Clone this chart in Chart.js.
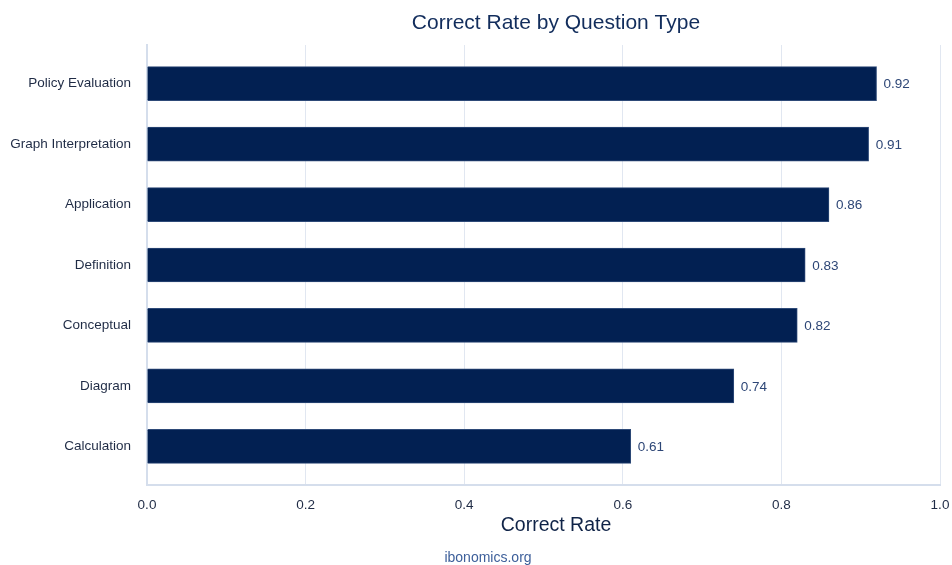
<!DOCTYPE html>
<html>
<head>
<meta charset="utf-8">
<title>Correct Rate by Question Type</title>
<script src="https://cdn.jsdelivr.net/npm/chart.js@4/dist/chart.umd.min.js"></script>
<style>
  html, body { margin: 0; padding: 0; background: #ffffff; }
  #wrap { position: relative; width: 952px; height: 565px; }
</style>
</head>
<body>
<div id="wrap"><canvas id="chart" width="952" height="565"></canvas></div>
<script>
// Question types, listed top to bottom
const categories = [
  'Policy Evaluation',
  'Graph Interpretation',
  'Application',
  'Definition',
  'Conceptual',
  'Diagram',
  'Calculation'
];
// Share of answers that were correct
const correctRates = [0.92, 0.91, 0.86, 0.83, 0.82, 0.74, 0.61];
// X axis tick values
const xTicks = [0.0, 0.2, 0.4, 0.6, 0.8, 1.0];

const FONT = '"Liberation Sans", Arial, sans-serif';
const NAVY = '#022052';
const GRID = '#e1e7f1';
const AXIS = '#d5deec';

// Bars placed on a numeric index axis so the rows keep some padding at both ends
const points = correctRates.map((v, i) => ({ x: v, y: i }));

// Title, axis title, footer and value labels
const textPlugin = {
  id: 'chartText',
  afterDatasetsDraw(chart) {
    const ctx = chart.ctx;
    const meta = chart.getDatasetMeta(0);
    ctx.save();
    ctx.font = '13.5px ' + FONT;
    ctx.fillStyle = '#2d4676';
    ctx.textAlign = 'left';
    ctx.textBaseline = 'middle';
    meta.data.forEach((bar, i) => {
      ctx.fillText(correctRates[i].toFixed(2), bar.x + 7, bar.y + 1);
    });
    ctx.restore();
  },
  afterDraw(chart) {
    const ctx = chart.ctx;
    const cx = 556;
    ctx.save();
    ctx.textAlign = 'center';
    ctx.textBaseline = 'middle';
    ctx.fillStyle = '#122d5c';
    ctx.font = '21px ' + FONT;
    ctx.fillText('Correct Rate by Question Type', cx, 23);
    ctx.fillStyle = '#0f2347';
    ctx.font = '19.5px ' + FONT;
    ctx.fillText('Correct Rate', cx, 526);
    ctx.fillStyle = '#3d5f9a';
    ctx.font = '14px ' + FONT;
    ctx.fillText('ibonomics.org', 488, 558);
    ctx.restore();
  }
};

new Chart(document.getElementById('chart'), {
  type: 'bar',
  data: {
    datasets: [{
      data: points,
      backgroundColor: NAVY,
      borderColor: '#2e4a78',
      borderWidth: 1,
      borderSkipped: 'start',
      barThickness: 34
    }]
  },
  options: {
    indexAxis: 'y',
    responsive: false,
    animation: false,
    layout: { padding: { top: 45, right: 12, bottom: 0, left: 0 } },
    plugins: {
      legend: { display: false },
      title: { display: false },
      tooltip: { enabled: false }
    },
    scales: {
      x: {
        type: 'linear',
        min: 0,
        max: 1,
        afterBuildTicks(scale) { scale.ticks = xTicks.map(v => ({ value: v })); },
        afterFit(scale) {
          scale.height = 80;
          scale.paddingLeft = 0;
          scale.paddingRight = 0;
        },
        grid: { color: GRID, lineWidth: 1, drawTicks: false },
        border: { display: true, color: AXIS, width: 2 },
        ticks: {
          padding: 12,
          color: '#1f2b45',
          font: { family: FONT, size: 13.5 },
          callback: v => Number(v).toFixed(1)
        }
      },
      y: {
        type: 'linear',
        reverse: true,
        offset: false,
        min: -0.64,
        max: categories.length - 1 + 0.64,
        afterBuildTicks(scale) { scale.ticks = categories.map((c, i) => ({ value: i })); },
        afterFit(scale) {
          scale.width = 147;
          scale.paddingTop = 0;
          scale.paddingBottom = 0;
        },
        grid: { display: false, drawTicks: false, offset: false },
        border: { display: true, color: AXIS, width: 2 },
        ticks: {
          padding: 16,
          color: '#1f2b45',
          font: { family: FONT, size: 13.5 },
          callback: v => categories[v] ?? ''
        }
      }
    }
  },
  plugins: [textPlugin]
});
</script>
</body>
</html>
